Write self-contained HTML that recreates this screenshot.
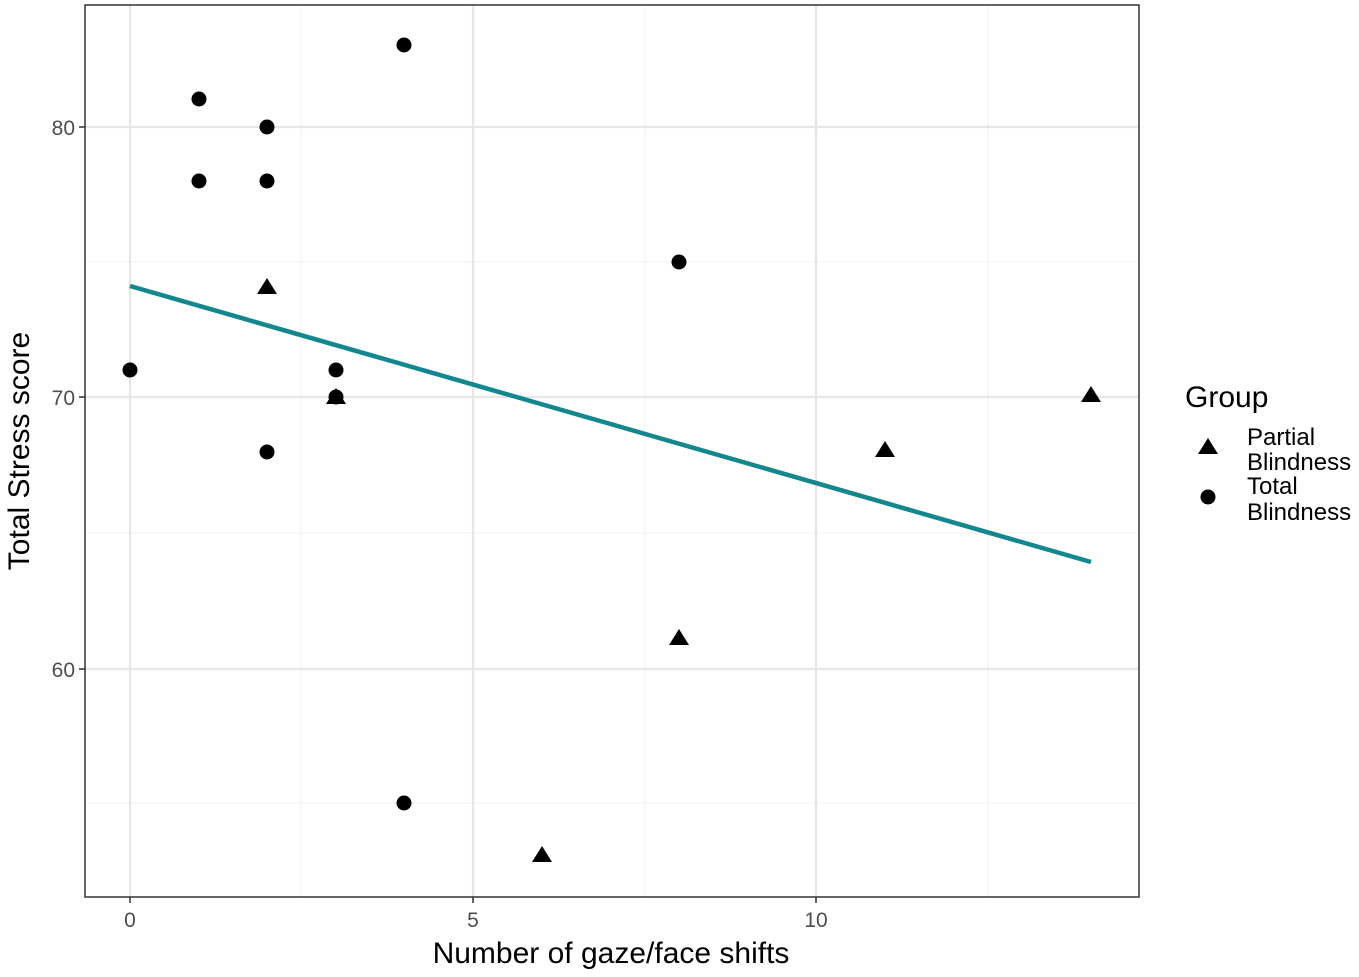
<!DOCTYPE html>
<html><head><meta charset="utf-8"><style>
html,body{margin:0;padding:0;background:#fff;}
svg{display:block;font-family:"Liberation Sans",sans-serif;}
</style></head><body>
<svg width="1359" height="977" viewBox="0 0 1359 977">
<rect width="1359" height="977" fill="#fff"/>
<g stroke="#f2f2f2" stroke-width="1.2">
<line x1="301" y1="5" x2="301" y2="897"/><line x1="645" y1="5" x2="645" y2="897"/><line x1="988" y1="5" x2="988" y2="897"/>
<line x1="85" y1="262" x2="1139" y2="262"/><line x1="85" y1="533" x2="1139" y2="533"/><line x1="85" y1="803" x2="1139" y2="803"/>
</g>
<g stroke="#e6e6e6" stroke-width="2.2">
<line x1="130" y1="5" x2="130" y2="897"/><line x1="473" y1="5" x2="473" y2="897"/><line x1="816" y1="5" x2="816" y2="897"/>
<line x1="85" y1="127" x2="1139" y2="127"/><line x1="85" y1="397" x2="1139" y2="397"/><line x1="85" y1="669" x2="1139" y2="669"/>
</g>
<line x1="130" y1="286" x2="1091" y2="562" stroke="#12878d" stroke-width="4.5"/>
<g fill="#000">
<circle cx="130" cy="370" r="7.5"/><circle cx="199" cy="99" r="7.5"/><circle cx="199" cy="181" r="7.5"/>
<circle cx="267" cy="127" r="7.5"/><circle cx="267" cy="181" r="7.5"/><circle cx="267" cy="452" r="7.5"/>
<circle cx="336" cy="370" r="7.5"/><circle cx="336" cy="397" r="7.5"/><circle cx="404" cy="45" r="7.5"/>
<circle cx="404" cy="803" r="7.5"/><circle cx="679" cy="262" r="7.5"/>
<path d="M267 278l10 16h-20z"/><path d="M336 388l10 16h-20z"/><path d="M542 846l10 16h-20z"/>
<path d="M679 629l10 16h-20z"/><path d="M885 441l10 16h-20z"/><path d="M1091 386l10 16h-20z"/>
</g>
<rect x="85" y="5" width="1054" height="892" fill="none" stroke="#333" stroke-width="1.5"/>
<g stroke="#333" stroke-width="1.5">
<line x1="130" y1="897" x2="130" y2="903"/><line x1="473" y1="897" x2="473" y2="903"/><line x1="816" y1="897" x2="816" y2="903"/>
<line x1="79" y1="127" x2="85" y2="127"/><line x1="79" y1="397" x2="85" y2="397"/><line x1="79" y1="669" x2="85" y2="669"/>
</g>
<g fill="#4d4d4d" font-size="21">
<text x="130" y="927" text-anchor="middle">0</text><text x="473" y="927" text-anchor="middle">5</text><text x="816" y="927" text-anchor="middle">10</text>
<text x="75" y="135" text-anchor="end">80</text><text x="75" y="405" text-anchor="end">70</text><text x="75" y="677" text-anchor="end">60</text>
</g>
<text x="611" y="963" text-anchor="middle" font-size="30">Number of gaze/face shifts</text>
<text transform="translate(29 451) rotate(-90)" text-anchor="middle" font-size="30">Total Stress score</text>
<text x="1185" y="407" font-size="30">Group</text>
<path d="M1208 438l10 16h-20z" fill="#000"/><circle cx="1208" cy="497" r="7.5" fill="#000"/>
<g font-size="24">
<text x="1247" y="445">Partial</text><text x="1247" y="470">Blindness</text>
<text x="1247" y="494">Total</text><text x="1247" y="520">Blindness</text>
</g>
</svg>
</body></html>
